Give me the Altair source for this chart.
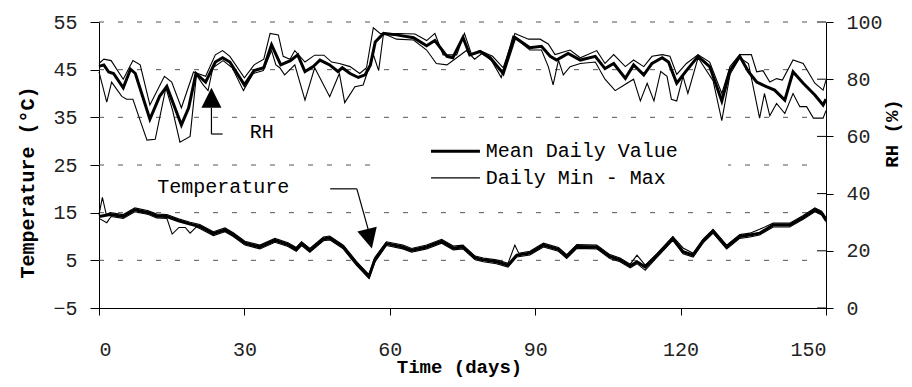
import altair as alt
import pandas as pd

# ---------------- data ----------------
X_TICKS = [0, 30, 60, 90, 120, 150]
T_TICKS = [-5, 5, 15, 25, 35, 45, 55]
RH_TICKS = [0, 20, 40, 60, 80, 100]
GRID_T = [5, 15, 25, 35, 45, 55]

rh_mean_day = [0, 1, 2, 3, 5, 6.5, 7.5, 10.5, 12.5, 14, 17, 18.5, 20, 22, 24, 25.5, 27, 30, 32, 34, 35.6, 37.5,
               39.5, 41, 42.5, 44.2, 45.6, 47.6, 49.3, 50.2, 51.8, 53.5, 54.9, 56, 57, 58.7, 61.4, 64.9, 67.6, 69.3,
               71.8, 73, 75.1, 76.5, 78.6, 80.7, 83.4, 85.8, 88.9, 91.3, 93.1, 94.4, 96.8, 99.3, 102.4, 104.4, 106.2,
               108.6, 110.3, 112.4, 114.1, 116.2, 117.5, 119.2, 121.2, 123.6, 126, 128.5, 130.2, 132.2, 134, 135.7,
               137.7, 139.4, 141.5, 143.2, 145.3, 147.7, 149.4, 150]
rh_mean_val = [84.5, 85, 82.5, 82, 77, 83.5, 82, 66, 74, 77.5, 64, 70, 82, 79, 86, 87.5, 86, 78, 83, 84, 92, 85,
               86.5, 88.5, 82.7, 84.4, 86.7, 85, 82.7, 84, 82, 80.6, 81.5, 85, 93, 96, 95.5, 94.5, 91.7, 93.5,
               88, 87.5, 94.6, 88.5, 89.7, 87.5, 82, 94.6, 91, 91.5, 88, 86.7, 89, 86.7, 88, 83.7, 85.5,
               80.3, 85, 81.5, 85.5, 87.5, 86, 78.6, 83, 88, 84.4, 72.4, 83, 88, 82.6, 79,
               77.4, 76.2, 72.7, 82.6, 78.6, 74.5, 71, 73]

rh_max_day = [0, 1, 2.5, 5, 7, 8.5, 10.5, 13.5, 15, 17, 19.5, 22, 24, 25.5, 27, 30, 32, 34, 35.3, 37, 38, 39.4,
              40.4, 42.5, 44.5, 46.4, 48, 49.6, 51.8, 53.8, 55.2, 56.6, 58, 61.7, 65.2, 67.6, 69.3, 71, 73.8, 75.4,
              76.9, 78.6, 81.2, 83.4, 85.8, 88.6, 91, 92.7, 94.1, 97.2, 99.3, 102.7, 104.4, 106.2, 108.6, 110.3,
              112.4, 114.1, 116.2, 117.8, 119.2, 121.2, 123.6, 126, 128.5, 130.2, 132.2, 134.6, 135.7, 137, 138.4,
              139.8, 141, 143.2, 145.3, 147.7, 149.4, 150]
rh_max_val = [85.5, 87, 86.5, 80, 86.5, 85, 71, 81, 79, 70, 82.5, 81, 88.5, 90, 88, 80.5, 85, 87, 96, 95.5, 88, 87,
              90, 86, 88.4, 88.4, 86, 85.5, 84.4, 82, 84, 98, 96, 96, 95.8, 93.5, 96, 88.5, 88.5, 96,
              88.5, 90, 88, 84, 96, 94, 94, 92.3, 88.6, 90.2, 87.5, 90, 85.5, 88.6, 84.4, 86.7,
              84.4, 88, 88.6, 88, 81.7, 85.5, 88.6, 86, 75, 84.4, 88.6, 88.6, 82.6, 83, 79,
              80.2, 79.7, 86.7, 85.5, 78.6, 76.2, 79.7]

rh_min_day = [0, 1.6, 2.6, 4.7, 5.7, 7, 8.5, 9.9, 11.6, 13.8, 15.2, 16.7, 18.8, 20.1, 21.5, 22.5, 23.5, 25.6,
              27.5, 29.8, 31.8, 33.9, 35.6, 36.5, 37.3, 38.3, 40.4, 42.5, 44.5, 47.6, 49.6, 50.7, 52.8, 54.5,
              56.6, 57.7, 58.7, 61.4, 64.9, 67.6, 69.6, 71.8, 73.8, 75.8, 77.5, 79, 81, 83, 85.4, 88.9, 91.3,
              92.7, 93.7, 94.8, 95.8, 97.2, 99.3, 102.4, 104.4, 106.5, 108.2, 110.3, 111.7, 113.1, 114.5, 115.9,
              117.2, 118.1, 119.2, 120.5, 121.5, 123.6, 126.7, 128.5, 130.2, 132.2, 134, 136.3, 137.3, 138.4,
              139.8, 141.5, 143.2, 144.6, 146, 147.4, 149.4, 150]
rh_min_val = [82.6, 72, 79, 74, 73, 73, 65.5, 58.7, 59, 77, 69, 58, 60, 81.5, 78, 76, 84, 86.5,
              84, 76, 82, 83, 90, 85, 84, 81.5, 85, 72.7, 84, 73.9, 82, 71.8, 77.4, 78,
              88.6, 83, 96, 94, 93.7, 90.2, 85.5, 85, 87.5, 90, 87, 89, 86.5, 80.6, 95, 90.2, 90.2,
              84.4, 78, 86.7, 81.5, 84.4, 85.5, 86, 80, 76, 77.8, 80, 72.4, 78.6, 72.4, 82.7,
              81, 73, 72.4, 81, 75, 87.5, 79.5, 65.5, 81.7, 87.5, 85.5, 66.4, 75, 67.2,
              71.5, 68, 75, 70.4, 70.4, 66.4, 66.4, 69]

t_mean_day = [0, 2.3, 5, 7.4, 10.2, 11.9, 14, 16.4, 18.8, 20.8, 23.6, 26, 27.7, 30.1, 33.2, 36.3, 39, 40.7, 41.8,
              43.5, 46.3, 47.6, 50.4, 53.1, 55.7, 56.9, 59.3, 62.7, 64.5, 67.6, 70.7, 73.1, 75.1, 77.6, 79.3, 82,
              84.4, 86.2, 88.9, 91.7, 94.8, 96.5, 98.6, 102.7, 105.4, 107.5, 109.6, 111, 112.7, 115.2, 118.4,
              120.5, 122.6, 124.6, 126.7, 129.5, 132.2, 134.3, 136.3, 139.1, 142.5, 145.3, 147.7, 149.1, 150]
t_mean_val = [14.2, 14.6, 14.2, 15.6, 15, 14.3, 14.2, 13.3, 12.6, 12.1, 10.6, 11.4, 10.4, 8.6, 7.8, 9.2, 8.3, 7.3, 8.5,
              7.1, 9.5, 9.7, 7.8, 4.4, 1.6, 5.1, 8.5, 7.8, 7.1, 7.8, 9, 7.6, 7.8, 5.5, 5.1, 4.7,
              4.0, 6.1, 6.5, 8.2, 7.3, 5.8, 7.9, 7.8, 5.8, 5.1, 3.8, 4.7, 3.6, 6.1, 9.6,
              6.8, 6.1, 9.0, 11.1, 7.8, 10.0, 10.3, 10.7, 12.4, 12.4, 14.0, 15.6, 14.9, 13.5]

t_max_day = [0, 0.7, 1.5, 2.3, 5, 7.4, 10.2, 11.9, 14, 16.4, 18.8, 20.8, 23.6, 26, 27.7, 30.1, 33.2, 36.3, 39,
             40.7, 41.8, 43.5, 46.3, 47.6, 50.4, 53.1, 55.7, 56.9, 59.3, 62.7, 64.5, 67.6, 70.7, 73.1, 75.1,
             77.6, 79.3, 82, 84.4, 85.8, 86.6, 88.9, 91.7, 94.8, 96.5, 98.6, 102.7, 105.4, 107.5, 109.6, 111,
             112.7, 115.2, 118.4, 120.5, 122.6, 124.6, 126.7, 129.5, 132.2, 134.3, 136.3, 139.1, 142.5, 145.3,
             147.7, 149.1, 150]
t_max_val = [14.6, 18.2, 14.6, 15.0, 14.6, 16.0, 15.4, 14.7, 14.6, 13.7, 13.0, 12.5, 11.0, 11.8, 10.8, 9.0, 8.2, 9.6, 8.7,
             7.7, 8.9, 7.5, 9.9, 10.1, 8.2, 4.8, 2.0, 5.6, 8.9, 8.2, 7.5, 8.2, 9.4, 8.0, 8.2,
             5.9, 5.5, 5.1, 4.4, 8.2, 6.5, 6.9, 8.6, 7.7, 6.2, 8.3, 8.2, 6.2, 5.5, 4.2, 6.1,
             4.0, 6.5, 10.0, 7.6, 6.5, 9.4, 11.5, 8.2, 10.4, 10.7, 11.5, 12.8, 12.8, 14.4,
             16.0, 15.3, 13.9]

t_min_day = [0, 1.6, 2.5, 5, 7.4, 10.2, 11.9, 14, 15.1, 16.5, 17.8, 18.8, 20.1, 20.8, 23.6, 26, 27.7, 30.1, 33.2,
             36.3, 39, 40.7, 41.8, 43.5, 46.3, 47.6, 50.4, 53.1, 55.7, 56.9, 59.3, 62.7, 64.5, 67.6, 70.7, 73.1,
             75.1, 77.6, 79.3, 82, 84.4, 86.2, 88.9, 91.7, 94.8, 96.5, 98.6, 102.7, 105.4, 107.5, 109.6, 111,
             112.7, 115.2, 118.4, 120.5, 122.6, 124.6, 126.7, 129.5, 132.2, 134.3, 136.3, 139.1, 142.5, 145.3,
             147.7, 149.1, 150]
t_min_val = [13.8, 12.9, 14.2, 13.8, 15.2, 14.6, 13.9, 13.8, 10.5, 11.9, 11.9, 10.7, 12.0, 11.7, 10.2, 11.0, 10.0, 8.2, 7.4,
             8.8, 7.9, 6.9, 8.1, 6.7, 9.1, 9.3, 7.4, 4.0, 1.2, 4.6, 8.1, 7.4, 6.7, 7.4, 8.6, 7.2,
             7.4, 5.1, 4.7, 4.3, 3.6, 5.7, 6.1, 7.8, 6.9, 5.4, 7.5, 7.4, 5.4, 4.7, 3.4, 4.3,
             2.9, 5.7, 9.2, 6.4, 5.7, 8.6, 10.7, 7.4, 9.6, 9.9, 10.3, 12.0, 12.0, 13.6,
             15.2, 14.5, 13.1]

# annotation segments (days, degC)
seg_x = [23.2, 23.2, 47.7, 53.2]
seg_x2 = [25.5, 23.2, 53.2, 55.7]
seg_y = [31.5, 31.5, 20.0, 20.0]
seg_y2 = [31.5, 37.0, 20.0, 10.9]
head_x = [23.2, 55.8]
head_y = [39.1, 9.5]
head_angle = [0, 166]
rh_label = "RH"
rh_label_pos = (33.6, 31.9)
t_label = "Temperature"
t_label_pos = (12.0, 20.4)

legend_text = ["Mean Daily Value", "Daily Min - Max"]
legend_y = [27.9, 22.3]
legend_width = [3, 1.2]
legend_box = {"x": 58.0, "x2": 129.8, "y": 30.7, "y2": 19.3}
legend_line_x = [68.5, 78.6]
legend_text_x = 79.8

FONT = "Liberation Mono"

# ---------------- frames ----------------
def frame(days, vals, name):
    return pd.DataFrame({"day": days, "value": vals, "series": name})

t_mean_df = frame(t_mean_day, t_mean_val, "T mean")
t_thin_df = pd.concat([frame(t_max_day, t_max_val, "T max"), frame(t_min_day, t_min_val, "T min")])
rh_mean_df = frame(rh_mean_day, rh_mean_val, "RH mean")
rh_thin_df = pd.concat([frame(rh_max_day, rh_max_val, "RH max"), frame(rh_min_day, rh_min_val, "RH min")])

grid_df = pd.DataFrame({"y": GRID_T, "x0": 0, "x1": 148.2})
seg_df = pd.DataFrame({"x": seg_x, "x2": seg_x2, "y": seg_y, "y2": seg_y2})
head_df = pd.DataFrame({"x": head_x, "y": head_y, "a": head_angle})
rh_lab_df = pd.DataFrame({"x": [rh_label_pos[0]], "y": [rh_label_pos[1]], "t": [rh_label]})
t_lab_df = pd.DataFrame({"x": [t_label_pos[0]], "y": [t_label_pos[1]], "t": [t_label]})
box_df = pd.DataFrame([legend_box])
leg_df = pd.DataFrame({"x": legend_line_x[0], "x2": legend_line_x[1], "y": legend_y,
                       "w": legend_width, "t": legend_text, "tx": legend_text_x})
rtick_df = pd.DataFrame({"v": RH_TICKS, "x0": 148.15, "x1": 150})

W, H = 727, 286
xs = alt.Scale(domain=[0, 150], nice=False, zero=False)
ts = alt.Scale(domain=[-5, 55], nice=False, zero=False)
rs = alt.Scale(domain=[0, 100], nice=False, zero=False)

x_axis = alt.Axis(values=X_TICKS, title="Time (days)", tickSize=7, labelPadding=24, labelFontSize=20,
                  labelFont=FONT, titleFont=FONT, titleFontSize=19, titleFontWeight="bold",
                  titleX=360, titleY=58, titleBaseline="middle", titleAlign="center",
                  labelColor="#222", titleColor="#000", domainColor="#000", tickColor="#000", grid=False)
t_axis = alt.Axis(values=T_TICKS, title="Temperature (°C)", tickSize=9, labelPadding=13, labelFontSize=20,
                  labelFont=FONT, titleFont=FONT, titleFontSize=20, titleFontWeight="bold",
                  titleAngle=270, titleX=-72, titleY=160, titleBaseline="middle", titleAlign="center",
                  labelColor="#222", titleColor="#000", domainColor="#000", tickColor="#000", grid=False)
rh_axis = alt.Axis(values=RH_TICKS, title="RH (%)", orient="right", tickSize=7, labelPadding=13,
                   labelFontSize=20, labelFont=FONT, titleFont=FONT, titleFontSize=19, titleFontWeight="bold",
                   titleAngle=270, titleX=65, titleY=111, titleBaseline="middle", titleAlign="center",
                   labelColor="#222", titleColor="#000", domainColor="#000", tickColor="#000", grid=False)


def X(f):
    return alt.X(f, type="quantitative", scale=xs, axis=x_axis)


def YT(f):
    return alt.Y(f, type="quantitative", scale=ts, axis=t_axis)


def YR(f):
    return alt.Y(f, type="quantitative", scale=rs, axis=rh_axis)


grid = alt.Chart(grid_df).mark_rule(color="#555", strokeWidth=1, strokeDash=[5, 14]).encode(
    x=X("x0"), x2="x1", y=YT("y"))
box = alt.Chart(box_df).mark_rect(color="white").encode(x=X("x"), x2="x2", y=YT("y"), y2="y2")
leg_lines = alt.Chart(leg_df).mark_rule(color="black").encode(
    x=X("x"), x2="x2", y=YT("y"), strokeWidth=alt.StrokeWidth("w:Q", scale=None, legend=None))
leg_text = alt.Chart(leg_df).mark_text(font=FONT, fontSize=20, align="left", baseline="middle",
                                         color="black").encode(x=X("tx"), y=YT("y"), text="t:N")
t_mean = alt.Chart(t_mean_df).mark_line(color="black", strokeWidth=3).encode(x=X("day"), y=YT("value"))
t_thin = alt.Chart(t_thin_df).mark_line(color="black", strokeWidth=1.1).encode(
    x=X("day"), y=YT("value"), detail="series:N")
segs = alt.Chart(seg_df).mark_rule(color="black", strokeWidth=1.2).encode(x=X("x"), x2="x2", y=YT("y"), y2="y2")
heads = alt.Chart(head_df).mark_point(shape="M-1,1L0,-1L1,1Z", filled=True, color="black", opacity=1,
                                      size=400).encode(x=X("x"), y=YT("y"), angle=alt.Angle("a:Q", scale=None))
labs_rh = alt.Chart(rh_lab_df).mark_text(font=FONT, fontSize=20, baseline="middle", color="black",
                                         align="center").encode(x=X("x"), y=YT("y"), text="t:N")
labs_t = alt.Chart(t_lab_df).mark_text(font=FONT, fontSize=20, baseline="middle", color="black",
                                       align="left").encode(x=X("x"), y=YT("y"), text="t:N")

temp_group = alt.layer(grid, box, leg_lines, leg_text, t_thin, t_mean, segs, heads, labs_rh, labs_t)

rh_ticks = alt.Chart(rtick_df).mark_rule(color="black").encode(x=X("x0"), x2="x1", y=YR("v"))
rh_thin = alt.Chart(rh_thin_df).mark_line(color="black", strokeWidth=1.1).encode(
    x=X("day"), y=YR("value"), detail="series:N")
rh_mean = alt.Chart(rh_mean_df).mark_line(color="black", strokeWidth=3).encode(x=X("day"), y=YR("value"))
rh_group = alt.layer(rh_ticks, rh_thin, rh_mean)

chart = alt.layer(temp_group, rh_group).resolve_scale(y="independent").properties(
    width=W, height=H, autosize="none", background="white",
    padding={"left": 91, "top": 14, "right": 78, "bottom": 70},
).configure_view(stroke=None)

chart.save("out.html", embed_options={"renderer": "svg", "actions": False})
